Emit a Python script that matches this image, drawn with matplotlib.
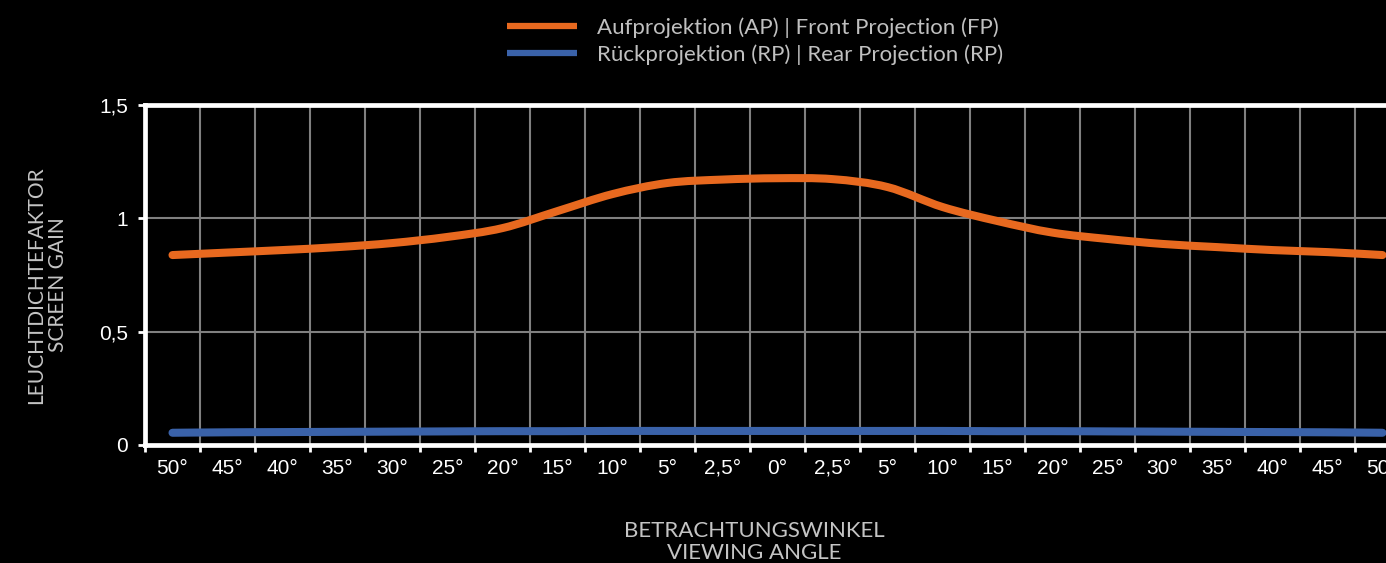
import matplotlib
matplotlib.use("Agg")
import matplotlib.pyplot as plt
from matplotlib.path import Path
from matplotlib.patches import PathPatch
from matplotlib.lines import Line2D
import numpy as np

# ---- data ----
angle_labels = ["50°", "45°", "40°", "35°", "30°", "25°", "20°", "15°", "10°", "5°", "2,5°", "0°",
                "2,5°", "5°", "10°", "15°", "20°", "25°", "30°", "35°", "40°", "45°", "50°"]
front_projection = [0.838, 0.849, 0.860, 0.873, 0.891, 0.918, 0.957, 1.032, 1.107, 1.156, 1.171, 1.177,
                    1.173, 1.138, 1.050, 0.988, 0.937, 0.909, 0.887, 0.873, 0.860, 0.851, 0.838]
rear_projection = [0.054, 0.056, 0.057, 0.058, 0.059, 0.060, 0.061, 0.061, 0.062, 0.062, 0.062, 0.062,
                   0.062, 0.062, 0.062, 0.061, 0.061, 0.060, 0.059, 0.058, 0.057, 0.056, 0.054]
y_ticks = [0, 0.5, 1, 1.5]
y_ticklabels = ["0", "0,5", "1", "1,5"]
series_names = ["Aufprojektion (AP) | Front Projection (FP)",
                "Rückprojektion (RP) | Rear Projection (RP)"]

ORANGE = "#E8691F"
BLUE = "#3A62A9"
LABEL_FONT = ["Lato", "DejaVu Sans"]

W, H = 1386, 563
fig = plt.figure(figsize=(W / 100, H / 100), dpi=100, facecolor="black")
ax = fig.add_axes([145 / W, 1 - 445 / H, (1410 - 145) / W, (445 - 105) / H])
ax.set_facecolor("black")


def smooth_path(xs, ys):
    pts = np.column_stack([xs, ys]).astype(float)
    n = len(pts)
    verts = [pts[0]]
    codes = [Path.MOVETO]
    for i in range(n - 1):
        p0 = pts[i - 1] if i > 0 else pts[i]
        p1 = pts[i]
        p2 = pts[i + 1]
        p3 = pts[i + 2] if i + 2 < n else pts[i + 1]
        c1 = p1 + (p2 - p0) / 6.0
        c2 = p2 - (p3 - p1) / 6.0
        verts += [c1, c2, p2]
        codes += [Path.CURVE4] * 3
    return Path(verts, codes)


x = np.arange(len(angle_labels))
for vals, col in [(front_projection, ORANGE), (rear_projection, BLUE)]:
    patch = PathPatch(smooth_path(x, vals), facecolor="none", edgecolor=col,
                      linewidth=5.8, capstyle="round", joinstyle="round", zorder=3)
    ax.add_patch(patch)

ax.set_xlim(-0.5, len(angle_labels) - 0.5)
ax.set_ylim(0, 1.5)

ax.set_xticks(x)
ax.set_xticklabels(angle_labels)
ax.set_xticks(np.arange(len(angle_labels) + 1) - 0.5, minor=True)
ax.tick_params(axis="x", which="major", length=0, pad=10, labelsize=15,
               labelcolor="white")
ax.tick_params(axis="x", which="minor", length=5, width=2, color="white")
ax.set_yticks(y_ticks)
ax.set_yticklabels(y_ticklabels)
ax.tick_params(axis="y", which="major", length=5, width=2, color="white",
               pad=7, labelsize=15, labelcolor="white")
for lab in ax.get_xticklabels() + ax.get_yticklabels():
    lab.set_fontfamily(["Liberation Sans", "DejaVu Sans"])

ax.grid(True, axis="x", which="minor", color="#808080", linewidth=1.5)
ax.grid(True, axis="y", which="major", color="#808080", linewidth=1.5)
ax.set_axisbelow(True)

for side in ["left", "top", "bottom", "right"]:
    ax.spines[side].set_color("white")
    ax.spines[side].set_linewidth(3.4)
    ax.spines[side].set_zorder(4)

fig.text(47 / W, 1 - 285 / H, "LEUCHTDICHTEFAKTOR\nSCREEN GAIN", rotation=90,
         ha="center", va="center", multialignment="center", color="#c4c4c4",
         fontsize=15, family=LABEL_FONT, linespacing=1.12)
fig.text(754 / W, 1 - 542 / H, "BETRACHTUNGSWINKEL\nVIEWING ANGLE",
         ha="center", va="center", multialignment="center", color="#c4c4c4",
         fontsize=16, family=LABEL_FONT, linespacing=1.08)

handles = [Line2D([], [], color=ORANGE, linewidth=4.5, solid_capstyle="butt"),
           Line2D([], [], color=BLUE, linewidth=4.5, solid_capstyle="butt")]
leg = fig.legend(handles, series_names, loc="center", bbox_to_anchor=(755 / W, 1 - 41 / H),
                 frameon=False, handlelength=3.15, handletextpad=0.9, labelspacing=0.3,
                 prop={"family": LABEL_FONT, "size": 16})
for t in leg.get_texts():
    t.set_color("#c0c0c0")

fig.savefig("out.png", dpi=100, facecolor="black")
